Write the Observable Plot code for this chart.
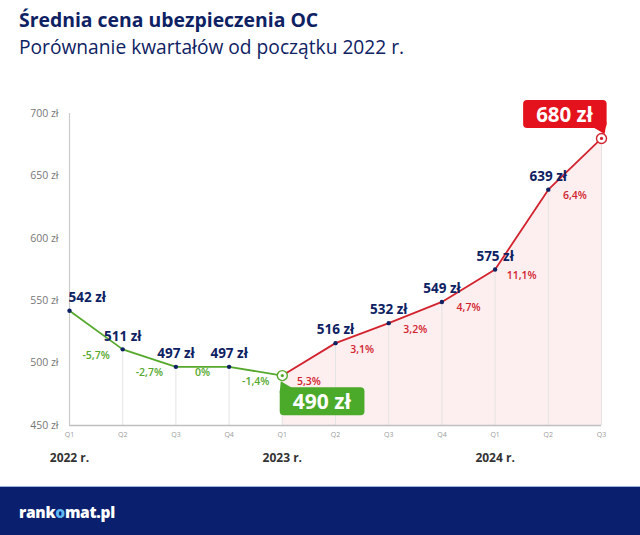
<!DOCTYPE html>
<html><head><meta charset="utf-8">
<script src="https://cdn.jsdelivr.net/npm/d3@7"></script>
<script src="https://cdn.jsdelivr.net/npm/@observablehq/plot@0.6"></script>
<style>
body{margin:0;background:#fff;font-family:"Open Sans",sans-serif;width:640px;height:535px;overflow:hidden;position:relative}
#title{position:absolute;left:19px;top:6px;font-size:19.4px;font-weight:700;color:#0e2263;white-space:nowrap}
#subtitle{position:absolute;left:19px;top:33px;font-size:19.2px;font-weight:400;color:#0e2263;white-space:nowrap}
#chart{position:absolute;left:0;top:90px}
#footer{position:absolute;left:0;top:486px;width:640px;height:49px;background:#0a1f6e;border-top:1px solid #9db3dc}
#logo{position:absolute;left:19px;top:14px;font-size:15.5px;font-weight:800;color:#fff;letter-spacing:-0.3px}
#logo span{color:#5fb8f2}
</style></head>
<body>
<div id="title">Średnia cena ubezpieczenia OC</div>
<div id="subtitle">Porównanie kwartałów od początku 2022 r.</div>
<div id="chart"></div>
<div id="footer"><div id="logo">rank<span>o</span>mat.pl</div></div>
<script>
const quarters = ["Q1","Q2","Q3","Q4","Q1","Q2","Q3","Q4","Q1","Q2","Q3"];
const years = ["2022 r.","2023 r.","2024 r."];
const prices = [542,511,497,497,490,516,532,549,575,639,680];
const changes = [-5.7,-2.7,0,-1.4,5.3,3.1,3.2,4.7,11.1,6.4];
const yTicks = [450,500,550,600,650,700];

const navy = "#0e2263", green = "#55a82c", red = "#d2232e";
const data = prices.map((p,i)=>({i, q:quarters[i], price:p}));
const iMin = prices.indexOf(d3.min(prices));
const iMax = prices.indexOf(d3.max(prices));
const special = new Set([iMin, iMax]);
const yearPos = quarters.map((q,i)=>q==="Q1"?i:null).filter(d=>d!==null).map((i,k)=>({i, label:years[k]}));
const segs = changes.map((c,k)=>({x:k+0.5, y:Math.min(prices[k],prices[k+1]), c,
  text:(c===0?"0":c.toFixed(1).replace(".",","))+"%"}));
const fmt = d=>`${d} zł`;

const plot = Plot.plot({
  width:640, height:397,
  marginLeft:69, marginRight:39, marginTop:23, marginBottom:62,
  style:{fontFamily:"Open Sans, sans-serif", background:"transparent"},
  x:{domain:[0,prices.length-1], axis:null},
  y:{domain:[450,700], axis:null},
  marks:[
    Plot.areaY(data.filter(d=>d.i>=iMin), {x:"i", y1:450, y2:"price", fill:"#fdeeef", curve:"linear"}),
    Plot.ruleX(data, {x:"i", y1:450, y2:"price", stroke:"#e4e4e4", strokeWidth:1}),
    Plot.ruleX([0], {y1:450, y2:700, stroke:"#cccccc", strokeWidth:1.2}),
    Plot.ruleY([450], {stroke:"#bfbfbf", strokeWidth:1.3}),
    Plot.line(data.filter(d=>d.i<=iMin), {x:"i", y:"price", stroke:green, strokeWidth:1.8}),
    Plot.line(data.filter(d=>d.i>=iMin), {x:"i", y:"price", stroke:red, strokeWidth:1.8}),
    Plot.dot(data.filter(d=>!special.has(d.i)), {x:"i", y:"price", r:2.2, fill:navy}),
    Plot.dot([data[iMin]], {x:"i", y:"price", r:5, fill:"white", stroke:green, strokeWidth:1.4}),
    Plot.dot([data[iMin]], {x:"i", y:"price", r:1.6, fill:green}),
    Plot.dot([data[iMax]], {x:"i", y:"price", r:5, fill:"white", stroke:red, strokeWidth:1.4}),
    Plot.dot([data[iMax]], {x:"i", y:"price", r:1.6, fill:red}),
    Plot.axisY({ticks:yTicks, tickFormat:fmt, tickSize:0, tickPadding:11, fontSize:10.5, color:"#777"}),
    Plot.axisX({ticks:d3.range(quarters.length), tickFormat:i=>quarters[i], tickSize:0, tickPadding:7, fontSize:7, color:"#9a9a9a"}),
    Plot.text(yearPos, {x:"i", y:450, text:"label", dy:33, fontSize:12, fontWeight:700, fill:"#333"}),
    Plot.text(data.filter(d=>d.i===0), {x:"i", y:"price", text:d=>fmt(d.price), dy:-13, textAnchor:"start", dx:-1, fontSize:13.5, fontWeight:700, fill:navy}),
    Plot.text(data.filter(d=>d.i!==0 && !special.has(d.i)), {x:"i", y:"price", text:d=>fmt(d.price), dy:-13, fontSize:13.5, fontWeight:700, fill:navy}),
    Plot.text(segs, {x:"x", y:"y", text:"text", dy:6, fontSize:10.5, fontWeight:600, fill:d=>d.c>0?red:green}),
    Plot.text([data[iMin]], {x:"i", y:"price", text:d=>fmt(d.price), dx:39.5, dy:27, fontSize:21, fontWeight:700, fill:"white", ariaDescription:"callout-min"}),
    Plot.text([data[iMax]], {x:"i", y:"price", text:d=>fmt(d.price), dx:-37, dy:-23, fontSize:20.5, fontWeight:700, fill:"white", ariaDescription:"callout-max"})
  ]
});
document.getElementById("chart").appendChild(plot);

function box(label, color, pointer){
  const g = plot.querySelector(`g[aria-description="${label}"]`);
  if(!g) return;
  const t = g.querySelector("text");
  const b = t.getBBox();
  const cx = b.x + b.width/2, cy = b.y + b.height/2;
  const w = b.width + 26, h = 28;
  const x0 = cx - w/2, y0 = cy - h/2;
  const ns = "http://www.w3.org/2000/svg";
  const host = t.parentNode;
  const r = document.createElementNS(ns,"rect");
  r.setAttribute("x",x0); r.setAttribute("y",y0); r.setAttribute("width",w); r.setAttribute("height",h);
  r.setAttribute("rx",4); r.setAttribute("fill",color);
  const p = document.createElementNS(ns,"path");
  p.setAttribute("fill",color);
  p.setAttribute("d", pointer(x0,y0,w,h));
  const tr = t.getAttribute("transform");
  if (tr) { r.setAttribute("transform", tr); p.setAttribute("transform", tr); }
  host.insertBefore(p, t);
  host.insertBefore(r, t);
}
box("callout-min", "#4caa2a", (x,y,w,h)=>`M${x},${y+6}L${x+1},${y-6}L${x+13},${y+1}Z`);
box("callout-max", "#e3121c", (x,y,w,h)=>`M${x+w-14},${y+h-1}L${x+w-2},${y+h+6}L${x+w},${y+h-6}Z`);
</script>
</body></html>
